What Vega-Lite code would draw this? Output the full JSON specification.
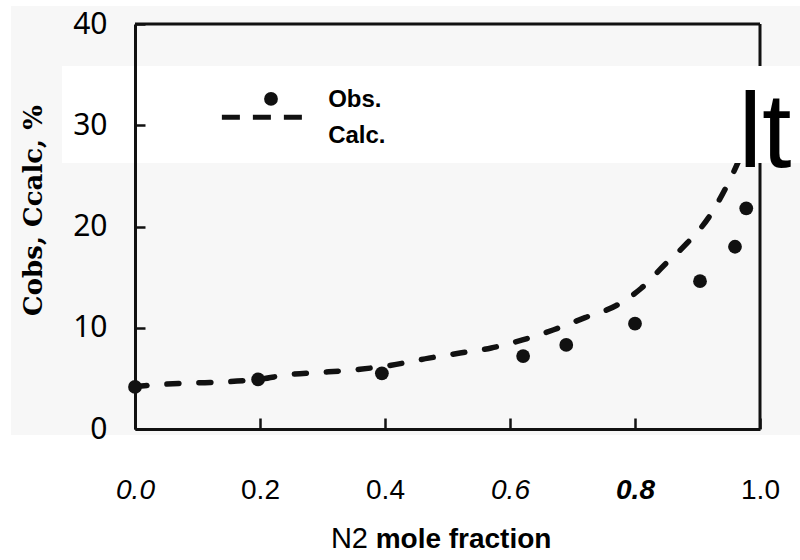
{
  "$schema": "https://vega.github.io/schema/vega-lite/v6.json",
  "width": 625,
  "height": 405,
  "autosize": "none",
  "padding": {"left": 135, "top": 24, "right": 40, "bottom": 131},
  "background": "white",
  "config": {"view": {"stroke": null}},
  "data": {"values": [{"deco": 1}]},
  "datasets": {
    "obs": [
      {"x": 0.0, "y": 4.15},
      {"x": 0.197, "y": 4.9},
      {"x": 0.395, "y": 5.5},
      {"x": 0.621, "y": 7.2},
      {"x": 0.69, "y": 8.3},
      {"x": 0.80, "y": 10.4},
      {"x": 0.904, "y": 14.6},
      {"x": 0.96, "y": 18.0},
      {"x": 0.978, "y": 21.8}
    ],
    "calc": [
      {"x": 0.0, "y": 4.2},
      {"x": 0.07, "y": 4.5},
      {"x": 0.12, "y": 4.6},
      {"x": 0.197, "y": 4.9},
      {"x": 0.25, "y": 5.4},
      {"x": 0.3, "y": 5.6},
      {"x": 0.36, "y": 5.9},
      {"x": 0.41, "y": 6.3},
      {"x": 0.47, "y": 7.0},
      {"x": 0.52, "y": 7.5},
      {"x": 0.57, "y": 8.0},
      {"x": 0.62, "y": 8.8},
      {"x": 0.67, "y": 9.8},
      {"x": 0.72, "y": 11.0},
      {"x": 0.77, "y": 12.2},
      {"x": 0.81, "y": 13.9},
      {"x": 0.847, "y": 16.2},
      {"x": 0.884, "y": 18.4},
      {"x": 0.918, "y": 20.9},
      {"x": 0.946, "y": 23.9},
      {"x": 0.97, "y": 27.1},
      {"x": 0.985, "y": 29.5}
    ]
  },
  "layer": [
    {
      "mark": {"type": "rect", "fill": "#f7f7f7"},
      "encoding": {
        "x": {"datum": -0.1984, "type": "quantitative", "scale": {"domain": [0, 1], "nice": false, "zero": false}},
        "x2": {"datum": 1.064},
        "y": {"datum": 41.78, "type": "quantitative", "scale": {"domain": [0, 40], "nice": false, "zero": false}},
        "y2": {"datum": -0.59}
      }
    },
    {
      "mark": {"type": "rule", "stroke": "#111", "strokeWidth": 3},
      "encoding": {
        "x": {"datum": 0, "type": "quantitative"},
        "x2": {"datum": 1},
        "y": {"datum": 40, "type": "quantitative"}
      }
    },
    {
      "mark": {"type": "rule", "stroke": "#111", "strokeWidth": 3},
      "encoding": {
        "x": {"datum": 1, "type": "quantitative"},
        "y": {"datum": 0, "type": "quantitative"},
        "y2": {"datum": 40}
      }
    },
    {
      "data": {"name": "calc"},
      "mark": {"type": "line", "stroke": "#111", "strokeWidth": 5.5, "strokeDash": [12, 20], "strokeCap": "round", "interpolate": "monotone"},
      "encoding": {
        "x": {"field": "x", "type": "quantitative"},
        "y": {"field": "y", "type": "quantitative"}
      }
    },
    {
      "data": {"name": "obs"},
      "mark": {"type": "point", "filled": true, "fill": "#111", "opacity": 1, "size": 190, "shape": "circle"},
      "encoding": {
        "x": {
          "field": "x", "type": "quantitative",
          "scale": {"domain": [0, 1], "nice": false, "zero": false},
          "axis": {
            "title": null,
            "values": [0, 0.2, 0.4, 0.6, 0.8, 1],
            "format": ".1f",
            "grid": false,
            "zindex": 1,
            "domainColor": "#111",
            "domainWidth": 3,
            "tickColor": "#111",
            "tickWidth": 2.5,
            "tickSize": -11,
            "labelPadding": 58,
            "labelFlush": false,
            "labelOverlap": false,
            "labelFont": "Liberation Sans",
            "labelFontSize": 28,
            "labelColor": "#000",
            "labelFontStyle": {"condition": {"test": "datum.label == '0.0' || datum.label == '0.6' || datum.label == '0.8'", "value": "italic"}, "value": "normal"},
            "labelFontWeight": {"condition": {"test": "datum.label == '0.8'", "value": "bold"}, "value": "normal"}
          }
        },
        "y": {
          "field": "y", "type": "quantitative",
          "scale": {"domain": [0, 40], "nice": false, "zero": false},
          "axis": {
            "title": "Cobs, Ccalc, %",
            "values": [0, 10, 20, 30, 40],
            "grid": false,
            "zindex": 1,
            "domainColor": "#111",
            "domainWidth": 3,
            "tickColor": "#111",
            "tickWidth": 2.5,
            "tickSize": -10,
            "labelPadding": 38,
            "labelFlush": false,
            "labelFont": "Noto Sans",
            "labelFontSize": 30,
            "labelColor": "#000",
            "titleFont": "DejaVu Serif",
            "titleFontSize": 26,
            "titleFontWeight": "bold",
            "titleColor": "#000",
            "titleAngle": -90,
            "titleX": -102,
            "titleY": 186,
            "titleAlign": "center",
            "titleBaseline": "middle"
          }
        }
      }
    },
    {
      "mark": {"type": "rect", "fill": "white"},
      "encoding": {
        "x": {"datum": -0.1168, "type": "quantitative"},
        "x2": {"datum": 1.064},
        "y": {"datum": 35.85, "type": "quantitative"},
        "y2": {"datum": 26.27}
      }
    },
    {
      "mark": {"type": "rule", "stroke": "#111", "strokeWidth": 5, "strokeDash": [18, 13]},
      "encoding": {
        "x": {"datum": 0.139, "type": "quantitative"},
        "x2": {"datum": 0.267},
        "y": {"datum": 30.8, "type": "quantitative"}
      }
    },
    {
      "mark": {"type": "point", "filled": true, "fill": "#111", "opacity": 1, "size": 190, "shape": "circle"},
      "encoding": {
        "x": {"datum": 0.2176, "type": "quantitative"},
        "y": {"datum": 32.6, "type": "quantitative"}
      }
    },
    {
      "mark": {"type": "text", "font": "Liberation Sans", "fontSize": 24, "fontWeight": "bold", "align": "left", "baseline": "middle", "fill": "#000"},
      "encoding": {
        "x": {"datum": 0.309, "type": "quantitative"},
        "y": {"datum": 32.5, "type": "quantitative"},
        "text": {"value": "Obs."}
      }
    },
    {
      "mark": {"type": "text", "font": "Liberation Sans", "fontSize": 24, "fontWeight": "bold", "align": "left", "baseline": "middle", "fill": "#000"},
      "encoding": {
        "x": {"datum": 0.309, "type": "quantitative"},
        "y": {"datum": 28.9, "type": "quantitative"},
        "text": {"value": "Calc."}
      }
    },
    {
      "mark": {"type": "text", "font": "Liberation Sans Narrow, Liberation Sans", "fontSize": 106, "align": "center", "baseline": "alphabetic", "fill": "#000"},
      "encoding": {
        "x": {"datum": 1.008, "type": "quantitative"},
        "y": {"datum": 25.88, "type": "quantitative"},
        "text": {"value": "lt"}
      }
    },
    {
      "mark": {"type": "text", "font": "Liberation Sans", "fontSize": 29, "align": "right", "baseline": "alphabetic", "fill": "#000"},
      "encoding": {
        "x": {"datum": 0.3728, "type": "quantitative"},
        "y": {"datum": -11.75, "type": "quantitative"},
        "text": {"value": "N2"}
      }
    },
    {
      "mark": {"type": "text", "font": "Liberation Sans", "fontSize": 28, "fontWeight": "bold", "align": "left", "baseline": "alphabetic", "fill": "#000"},
      "encoding": {
        "x": {"datum": 0.385, "type": "quantitative"},
        "y": {"datum": -11.75, "type": "quantitative"},
        "text": {"value": "mole fraction"}
      }
    }
  ]
}
